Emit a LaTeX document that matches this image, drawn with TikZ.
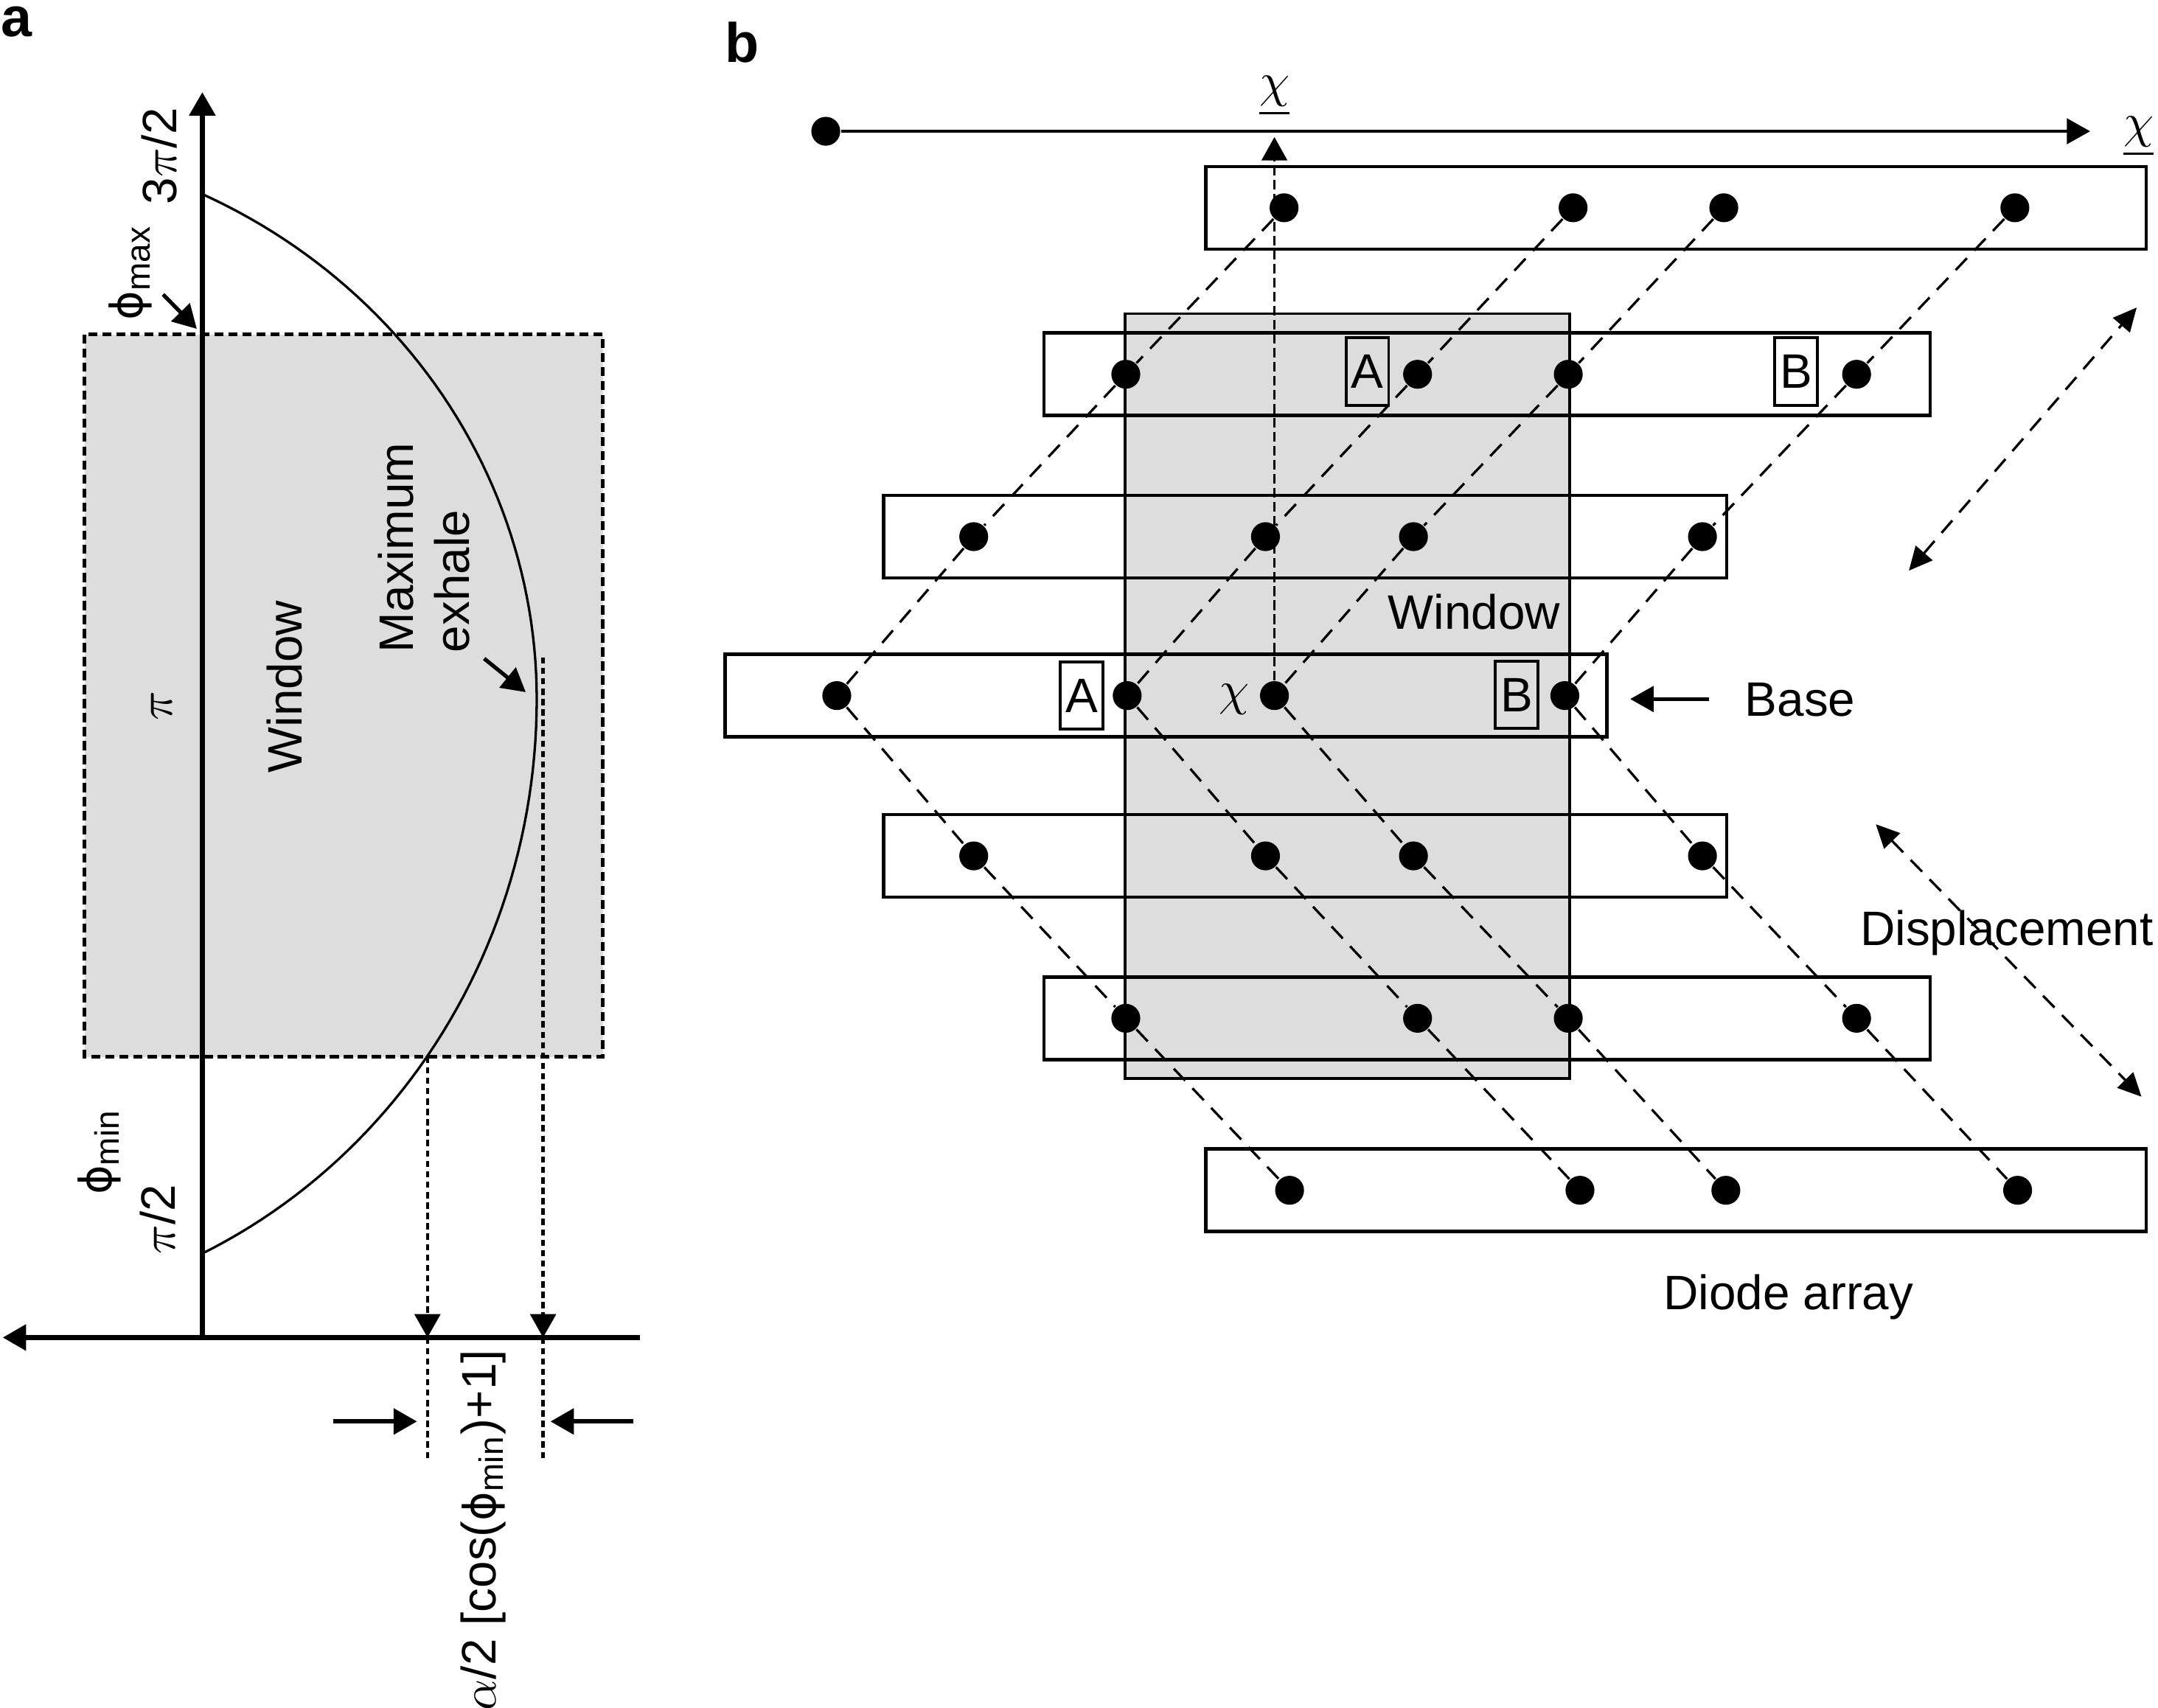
\documentclass[tikz,border=0pt]{standalone}
\usepackage{fontspec}
\setmainfont{Liberation Sans}
\newfontfamily\phifont[Scale=0.92]{DejaVu Sans}
\newcommand{\phisym}{{\phifont\char"03D5}}
\usetikzlibrary{arrows.meta}
\definecolor{windowgray}{RGB}{221,221,221}

\begin{document}
\begin{tikzpicture}[x=0.1mm, y=-0.1mm,
  every node/.style={font=\fontsize{10}{11.5}\selectfont, inner sep=0pt},
  panel/.style={font=\fontsize{11.5}{12}\selectfont\bfseries},
  arrowtip/.style={-{Triangle[length=1.7mm, width=1.85mm]}},
  twotips/.style={{Triangle[length=1.7mm, width=1.6mm]}-{Triangle[length=1.7mm, width=1.6mm]}},
  axisline/.style={line width=1pt, arrowtip},
  guide/.style={line width=0.7pt, dash pattern=on 1.3pt off 0.85pt},
  windowfill/.style={fill=windowgray, draw=black},
  diode/.style={circle, fill=black, minimum size=2.1mm},
  diodebar/.style={draw, line width=0.7pt},
  chainline/.style={line width=0.5pt, dash pattern=on 3.4pt off 2.2pt},
  vline/.style={line width=0.5pt, dash pattern=on 2pt off 0.9pt},
  letterbox/.style={draw, line width=0.6pt, minimum width=3.1mm, minimum height=4.9mm}]

\path[use as bounding box] (0,0) rectangle (1568,1241);

% panel a
\node[panel] (labela) at (12,16) {a};
\draw[windowfill, line width=0.65pt, dash pattern=on 1.9pt off 1pt] (61.4,243) rectangle (438,768);
\coordinate (O) at (147,972);
\coordinate (ytop) at (147,67);
\coordinate (xleft) at (2,972);
\coordinate (xright) at (465,972);
\draw[axisline] (O) -- (ytop);
\draw[axisline] (xright) -- (xleft);
\draw[line width=0.5pt] plot[domain=-64.52:0, samples=50] ({-36.5+426.5*cos(\x)}, {508+406.5*sin(\x)})
  -- plot[domain=0:64.52, samples=50] ({-36.5+426.5*cos(\x)}, {508+446.4*sin(\x)});

\coordinate (cutlow) at (310.6,768);
\coordinate (peak) at (394.6,477.7);
\coordinate (lowfoot) at (310.6,972);
\coordinate (peakfoot) at (394.6,972);
\coordinate (lowend) at (310.6,1060);
\coordinate (peakend) at (394.6,1060);
\draw[guide, arrowtip] (cutlow) -- (lowfoot);
\draw[guide, arrowtip] (peak) -- (peakfoot);
\draw[guide] (lowfoot) -- (lowend);
\draw[guide] (peakfoot) -- (peakend);

\coordinate (wl) at (242,1033);
\coordinate (wlt) at (303,1033);
\coordinate (wr) at (460,1033);
\coordinate (wrt) at (400,1033);
\draw[line width=0.9pt, arrowtip] (wl) -- (wlt);
\draw[line width=0.9pt, arrowtip] (wr) -- (wrt);

\node[rotate=90] (threehalfpi) at (116,113.5) {3$\pi$/2};
\node[rotate=90] (phimax) at (95,198) {\phisym\textsubscript{max}};
\node[rotate=90] (pi) at (117.5,513) {$\pi$};
\node[rotate=90] (halfpi) at (114.5,886) {$\pi$/2};
\node[rotate=90] (phimin) at (72,837) {\phisym\textsubscript{min}};
\node[rotate=90] (windowa) at (207,499) {Window};
\node[rotate=90, align=left] (maxexhale) at (308,398) {Maximum\\exhale};
\node[rotate=90] (amplitude) at (351,1112) {$\alpha$/2 [cos(\phisym\textsubscript{min})+1]};

\coordinate (phimaxfrom) at (118.5,214);
\coordinate (phimaxto) at (143,239);
\draw[line width=0.8pt, arrowtip] (phimaxfrom) -- (phimaxto);
\coordinate (exhalefrom) at (351.8,478.6);
\coordinate (exhaleto) at (382,503);
\draw[line width=0.8pt, arrowtip] (exhalefrom) -- (exhaleto);

% panel b
\node[panel] (labelb) at (539,31) {b};
\draw[windowfill, line width=0.5pt] (817.5,228) rectangle (1140.5,783.7);

\foreach \r/\y/\xl/\xr/\da/\db/\dc/\dd in {
  1/151/876/1559.5/933/1143/1252.5/1464,
  2/272/758.6/1402.5/818/1030/1139.5/1349,
  3/390/642/1254.6/707.5/919.5/1027/1237,
  4/505.5/527/1167.6/608/819/926/1137,
  5/622/642/1254.6/707.5/919.5/1027/1237,
  6/740/758.6/1402.5/818/1030/1139.5/1349,
  7/865/876/1559.5/937/1148/1254/1466}
{
  \draw[diodebar] (\xl,\y-30) rectangle (\xr,\y+30);
  \foreach \k/\dx in {1/\da,2/\db,3/\dc,4/\dd}
    \node[diode] (d\r-\k) at (\dx,\y) {};
}
\foreach \k in {1,...,4}
  \draw[chainline] (d1-\k) -- (d2-\k) -- (d3-\k) -- (d4-\k) -- (d5-\k) -- (d6-\k) -- (d7-\k);

\node[letterbox] (boxA2) at (993.5,270) {A};
\node[letterbox] (boxB2) at (1305,270) {B};
\node[letterbox] (boxA4) at (786,505.5) {A};
\node[letterbox] (boxB4) at (1102,505) {B};

\node[diode] (chistart) at (600,95.4) {};
\coordinate (chiend) at (1518.7,95.4);
\draw[line width=0.6pt, arrowtip] (chistart) -- (chiend);
\node[anchor=base] (chiright) at (1554,100) {$\underline{\chi}$};
\node[anchor=base] (chitoplabel) at (926,70.5) {$\underline{\chi}$};
\coordinate (chitop) at (926,99.6);
\draw[vline, arrowtip] (d4-3) -- (chitop);
\node (chibase) at (897,508.5) {$\chi$};

\node (windowb) at (1071,444.5) {Window};
\node (base) at (1308,508.5) {Base};
\coordinate (basefrom) at (1242,508);
\coordinate (baseto) at (1184.5,508);
\draw[line width=0.7pt, arrowtip] (basefrom) -- (baseto);

\coordinate (dispup1) at (1387,414.7);
\coordinate (dispup2) at (1552.5,223.5);
\coordinate (displo1) at (1363,599);
\coordinate (displo2) at (1556,797);
\draw[chainline, twotips] (dispup1) -- (dispup2);
\draw[chainline, twotips] (displo1) -- (displo2);
\node[anchor=base west] (displacement) at (1351,687) {Displacement};
\node[anchor=base] (diodearray) at (1299.5,951.5) {Diode array};

\end{tikzpicture}
\end{document}
